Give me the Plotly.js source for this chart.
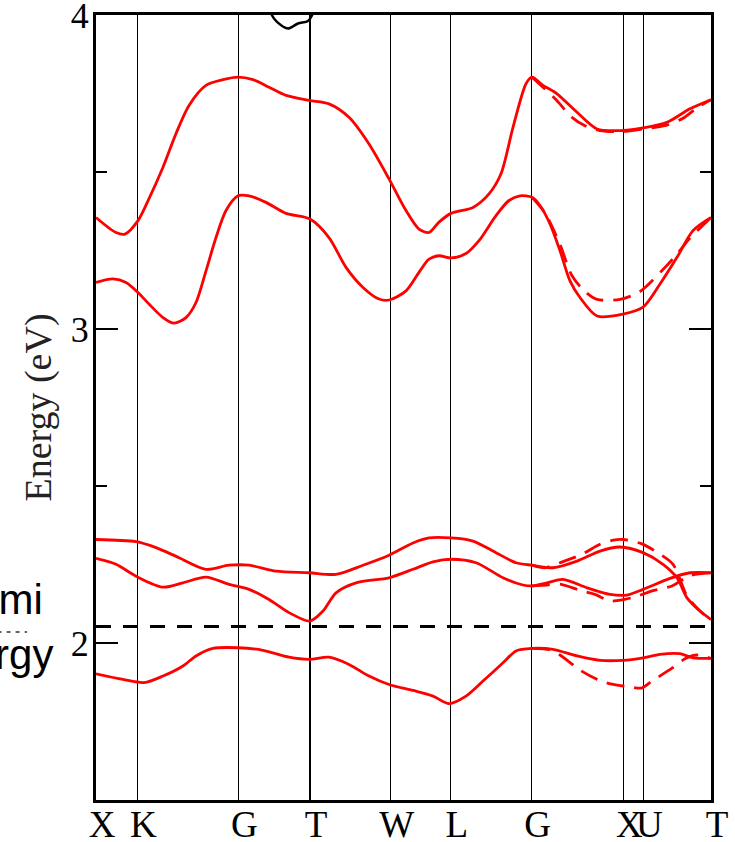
<!DOCTYPE html>
<html>
<head>
<meta charset="utf-8">
<script src="https://cdn.plot.ly/plotly-3.0.1.min.js"></script>
<style>html,body{margin:0;padding:0;background:#fff;}#chart{width:735px;height:842px;}</style>
</head>
<body>
<div id="chart"></div>
<script>
// High-symmetry k-points
const hsK = [0, 0.413, 1.423, 2.14, 2.947, 3.547, 4.357, 5.273, 5.473, 6.15];
const hsLabels = ["X", "K", "G", "T", "W", "L", "G", "X", "U", "T"];
const fermiEnergy = 2.053;
const yTickVals = [2, 3, 4];
const yTickText = ["2", "3", "4"];

// Upper band 1 (solid)
const kUp1 = [0,0.20,0.29,0.42,0.53,0.67,0.80,0.93,1.10,1.27,1.42,1.57,1.73,1.90,2.13,2.33,2.53,2.73,2.93,3.10,3.23,3.33,3.43,3.55,3.77,3.93,4.05,4.17,4.30,4.36,4.47,4.61,4.81,5.01,5.27,5.47,5.71,5.94,6.15];
const eUp1 = [3.356,3.308,3.303,3.346,3.416,3.516,3.623,3.713,3.777,3.795,3.803,3.795,3.771,3.745,3.729,3.718,3.675,3.590,3.479,3.378,3.319,3.308,3.341,3.369,3.388,3.431,3.495,3.643,3.782,3.803,3.777,3.750,3.691,3.638,3.633,3.641,3.659,3.702,3.731];
// Upper band 1 (dashed, G-X-U-T)
const kUp1d = [4.36,4.49,4.61,4.76,4.89,5.04,5.27,5.47,5.71,5.87,6.01,6.15];
const eUp1d = [3.803,3.765,3.728,3.675,3.648,3.633,3.630,3.638,3.650,3.672,3.705,3.731];

// Upper band 2 (solid)
const kUp2 = [0,0.17,0.30,0.42,0.53,0.67,0.78,0.90,1.00,1.10,1.20,1.30,1.42,1.53,1.70,1.90,2.14,2.33,2.50,2.67,2.83,2.93,3.10,3.23,3.33,3.43,3.55,3.70,3.83,4.00,4.13,4.24,4.36,4.44,4.54,4.64,4.74,4.84,5.01,5.27,5.47,5.64,5.81,5.97,6.15];
const eUp2 = [3.149,3.160,3.149,3.117,3.080,3.037,3.019,3.037,3.085,3.186,3.292,3.378,3.425,3.425,3.404,3.369,3.351,3.292,3.197,3.133,3.096,3.093,3.122,3.181,3.223,3.234,3.227,3.241,3.282,3.362,3.410,3.425,3.420,3.394,3.335,3.250,3.154,3.101,3.042,3.048,3.070,3.144,3.229,3.314,3.356];
// Upper band 2 (dashed)
const kUp2d = [4.36,4.49,4.64,4.76,4.89,5.01,5.24,5.44,5.67,5.80,5.94,6.15];
const eUp2d = [3.420,3.370,3.270,3.170,3.120,3.095,3.095,3.120,3.190,3.235,3.290,3.356];

// Lower band A (solid)
const kLoA = [0,0.40,0.60,0.83,1.10,1.33,1.53,1.80,2.13,2.40,2.67,2.93,3.17,3.33,3.55,3.77,4.00,4.20,4.36,4.57,4.81,5.04,5.24,5.47,5.67,5.81,5.91,6.04,6.15];
const eLoA = [2.330,2.323,2.304,2.272,2.235,2.248,2.248,2.229,2.224,2.219,2.248,2.280,2.319,2.335,2.335,2.325,2.288,2.256,2.248,2.240,2.261,2.293,2.306,2.288,2.251,2.208,2.144,2.102,2.075];
// Lower band A (dashed)
const kLoAd = [4.36,4.49,4.64,4.86,5.04,5.16,5.27,5.46,5.59,5.77,5.91,6.04,6.15];
const eLoAd = [2.248,2.240,2.256,2.283,2.315,2.327,2.330,2.316,2.293,2.251,2.150,2.102,2.075];

// Lower band B (solid)
const kLoB = [0,0.20,0.40,0.67,0.87,1.10,1.33,1.53,1.73,1.93,2.14,2.27,2.40,2.60,2.93,3.17,3.37,3.55,3.80,4.07,4.27,4.36,4.51,4.67,4.91,5.14,5.31,5.47,5.74,5.94,6.15];
const eLoB = [2.270,2.251,2.213,2.178,2.192,2.210,2.187,2.171,2.139,2.097,2.070,2.102,2.160,2.192,2.208,2.235,2.259,2.267,2.256,2.208,2.185,2.182,2.192,2.203,2.176,2.155,2.153,2.171,2.206,2.224,2.224];
// Lower band B (dashed)
const kLoBd = [4.36,4.51,4.64,4.84,4.99,5.14,5.27,5.42,5.56,5.76,5.94,6.15];
const eLoBd = [2.182,2.185,2.188,2.168,2.155,2.134,2.138,2.150,2.166,2.182,2.215,2.224];

// Lower band C (solid)
const kLoC = [0,0.27,0.48,0.67,0.87,1.00,1.17,1.42,1.67,1.93,2.13,2.33,2.53,2.73,2.93,3.17,3.37,3.53,3.70,3.87,4.07,4.20,4.36,4.57,4.81,5.04,5.27,5.47,5.64,5.84,5.97,6.15];
const eLoC = [1.902,1.884,1.874,1.895,1.927,1.959,1.983,1.985,1.977,1.955,1.948,1.955,1.932,1.895,1.868,1.849,1.831,1.807,1.831,1.879,1.937,1.975,1.983,1.980,1.959,1.945,1.945,1.953,1.964,1.966,1.953,1.951];
// Lower band C (dashed)
const kLoCd = [4.36,4.54,4.64,4.84,5.04,5.16,5.34,5.46,5.56,5.76,5.89,6.01,6.15];
const eLoCd = [1.983,1.978,1.962,1.914,1.880,1.869,1.860,1.857,1.879,1.920,1.950,1.962,1.951];

// Black band peeking below 4 eV
const kTop = [1.74,1.76,1.81,1.92,2.02,2.12,2.16,2.18];
const eTop = [4.03,4.00,3.979,3.958,3.974,3.982,4.00,4.03];

const RED = '#ff0000';
function band(k, e, dashed) {
  return {x: k, y: e, type: 'scatter', mode: 'lines', hoverinfo: 'skip',
    line: {color: RED, width: 2.8, shape: 'spline', smoothing: 0.8, dash: dashed ? '18px,10px' : 'solid'}};
}

const traces = [
  {x: [hsK[0], hsK[hsK.length - 1]], y: [fermiEnergy, fermiEnergy], type: 'scatter', mode: 'lines',
   line: {color: 'black', width: 3, dash: '15px,12px'}, hoverinfo: 'skip'},
  band(kUp1d, eUp1d, true), band(kUp2d, eUp2d, true),
  band(kLoAd, eLoAd, true), band(kLoBd, eLoBd, true), band(kLoCd, eLoCd, true),
  band(kUp1, eUp1, false), band(kUp2, eUp2, false),
  band(kLoA, eLoA, false), band(kLoB, eLoB, false), band(kLoC, eLoC, false),
  {x: kTop, y: eTop, type: 'scatter', mode: 'lines', hoverinfo: 'skip',
   line: {color: 'black', width: 2.5, shape: 'spline', smoothing: 0.8}}
];

const SERIF = 'Liberation Serif, Times New Roman, serif';
const layout = {
  width: 735, height: 842,
  margin: {l: 96, r: 24, t: 15, b: 42},
  paper_bgcolor: 'white', plot_bgcolor: 'white',
  showlegend: false,
  xaxis: {
    range: [0, 6.15], tickmode: 'array', tickvals: hsK, ticktext: hsLabels,
    showgrid: true, gridcolor: 'black', gridwidth: 1.5, zeroline: false,
    ticks: '', tickangle: 0, ticklabelshift: 6, ticklabelstandoff: -10,
    ticklabeloverflow: 'allow',
    showline: true, mirror: true, linecolor: 'black', linewidth: 3,
    tickfont: {family: SERIF, size: 37, color: 'black'},
    automargin: false
  },
  yaxis: {
    range: [1.5, 4.001], tickmode: 'array', tickvals: yTickVals, ticktext: yTickText,
    ticks: 'inside', ticklen: 22, tickwidth: 2.5, tickcolor: 'black',
    minor: {tickmode: 'array', tickvals: [2.5, 3.5], ticks: 'inside', ticklen: 11, tickwidth: 2, tickcolor: 'black', showgrid: false},
    showgrid: false, zeroline: false, ticklabelstandoff: -3,
    ticklabeloverflow: 'allow',
    showline: true, mirror: 'allticks', linecolor: 'black', linewidth: 3,
    tickfont: {family: SERIF, size: 36, color: 'black'},
    title: {text: 'Energy (eV)', font: {family: SERIF, size: 38, color: '#222'}, standoff: 8},
    automargin: false
  },
  annotations: [{
    text: 'Fermi<br>energy', xref: 'paper', yref: 'paper', x: -0.174, y: 0.22,
    xanchor: 'center', yanchor: 'middle', showarrow: false, align: 'center',
    font: {family: 'Liberation Sans, Arial, sans-serif', size: 42, color: 'black'}
  }],
  shapes: [{
    type: 'line', xref: 'paper', yref: 'paper', x0: -0.16, x1: -0.112, y0: 0.214, y1: 0.214,
    line: {color: '#333', width: 1.5, dash: '4px,5px'}
  }]
};

Plotly.newPlot('chart', traces, layout, {displayModeBar: false, staticPlot: true});
</script>
</body>
</html>
